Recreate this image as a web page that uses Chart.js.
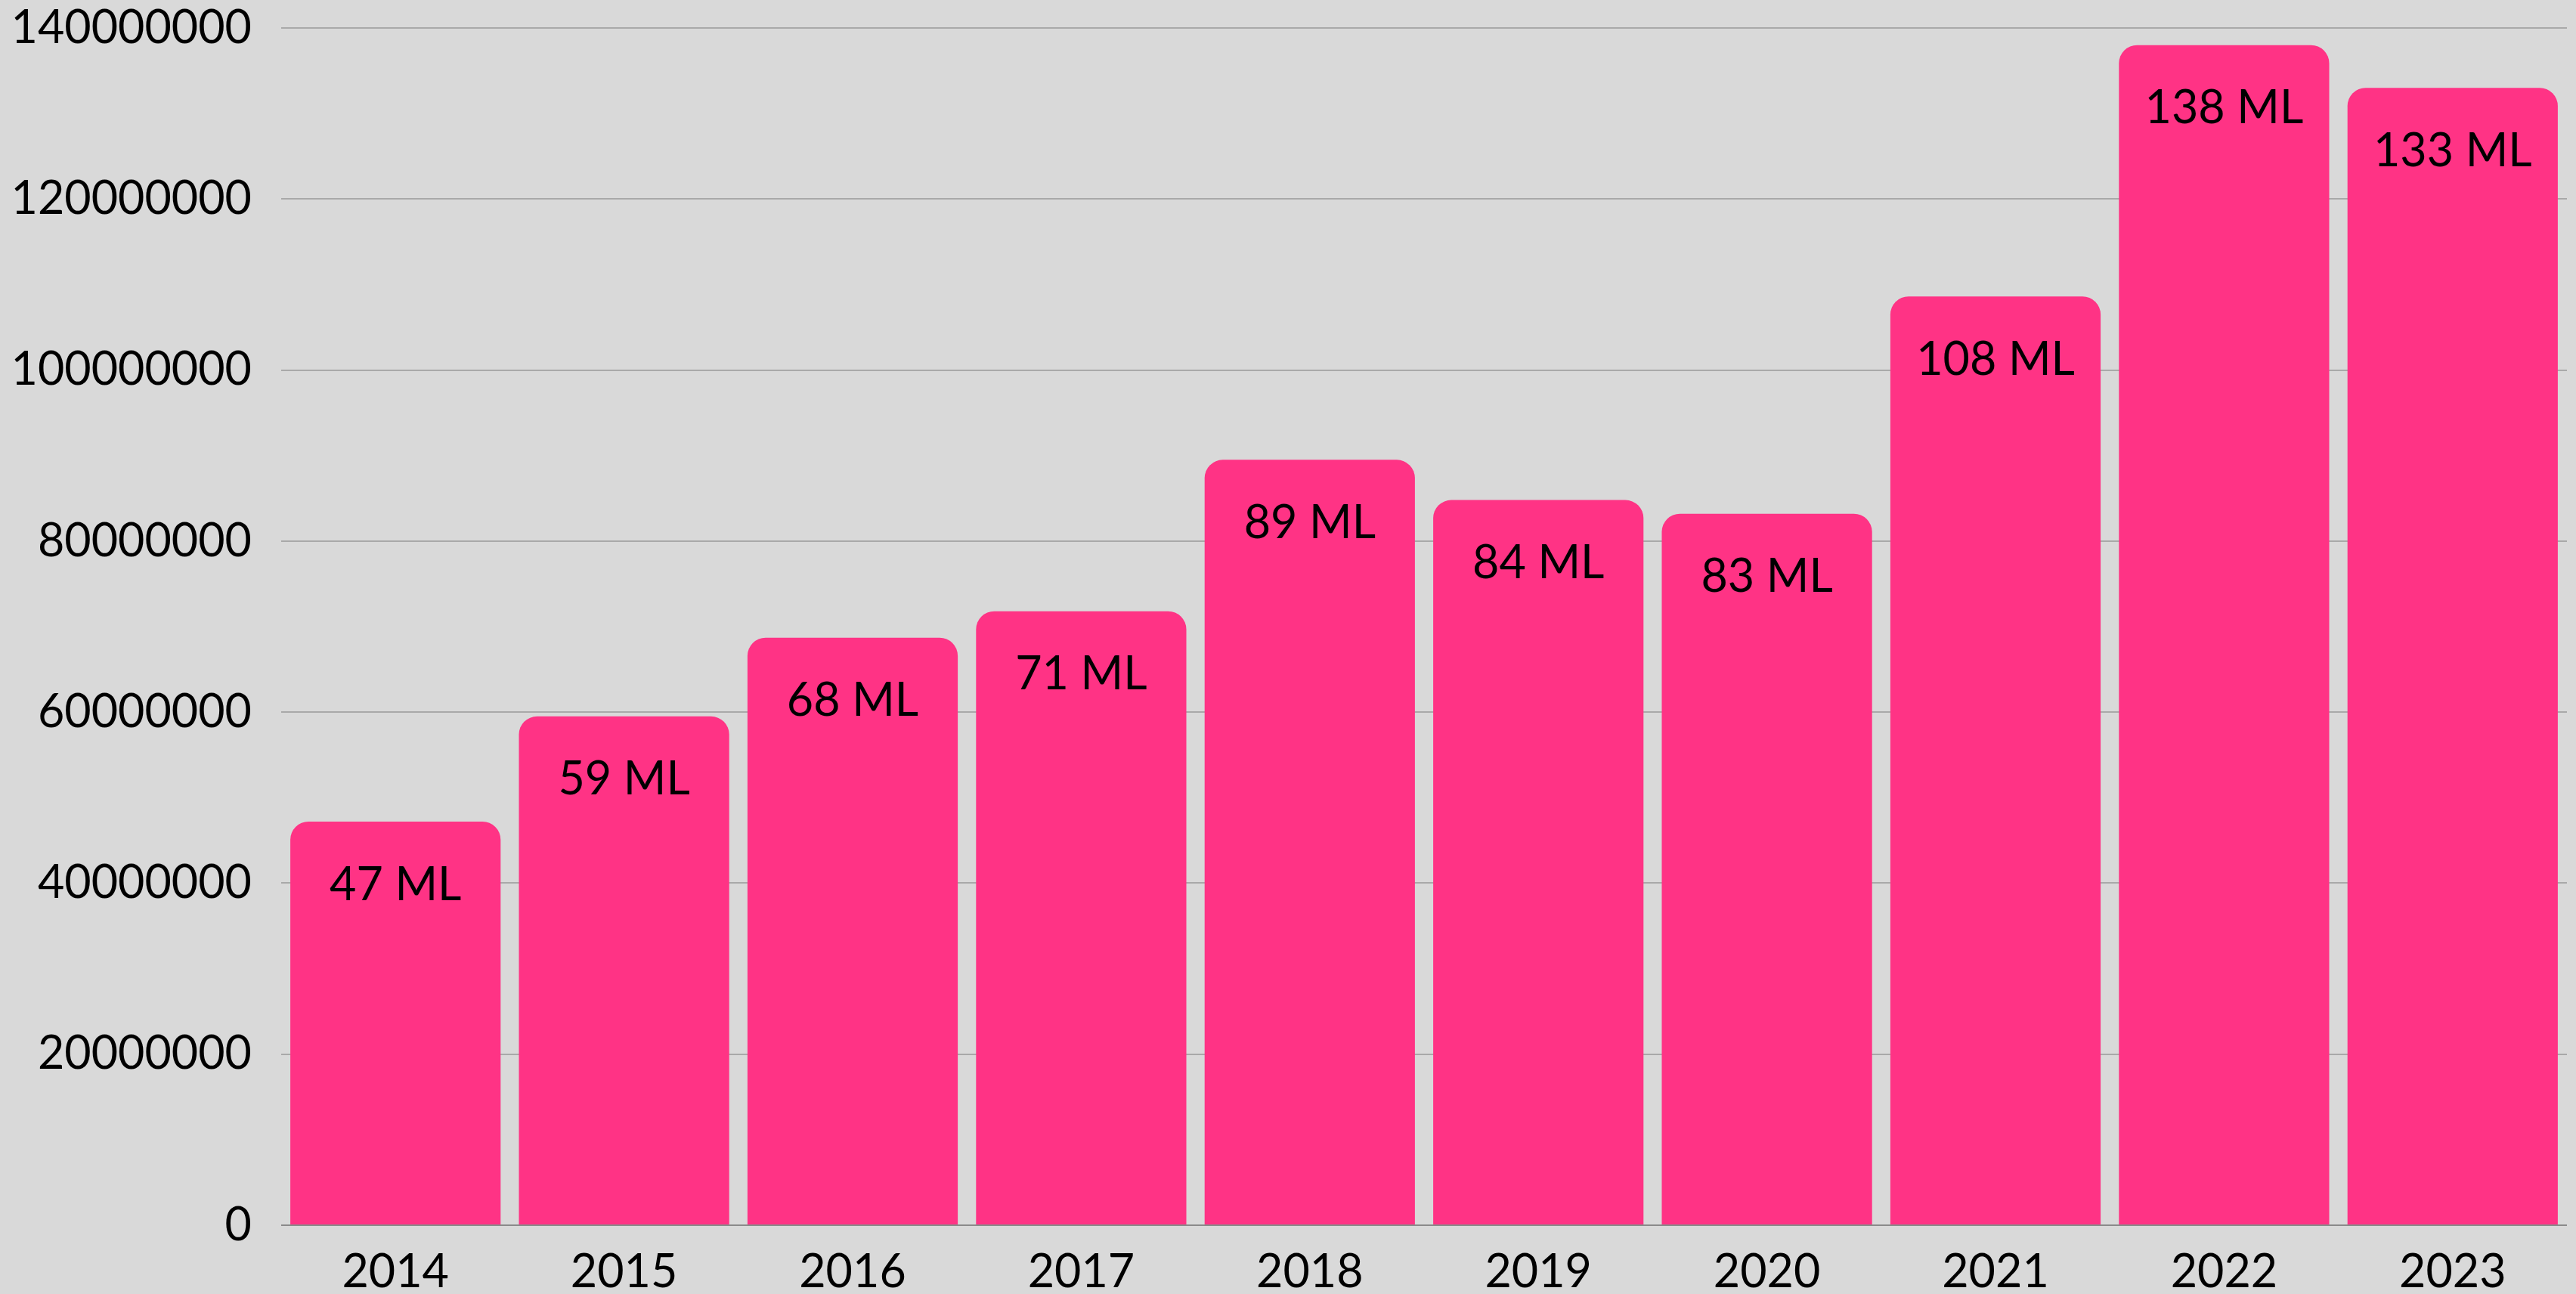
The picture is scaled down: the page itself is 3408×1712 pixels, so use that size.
<!DOCTYPE html>
<html>
<head>
<meta charset="utf-8">
<script src="https://cdn.jsdelivr.net/npm/chart.js@4.4.1/dist/chart.umd.min.js"></script>
<style>
    html, body { margin: 0; padding: 0; background: #d9d9d9; }
    #wrap { width: 3408px; height: 1712px; position: relative; }
</style>
</head>
<body>
<div id="wrap"><canvas id="volumeChart"></canvas></div>
<script>
const years = ['2014', '2015', '2016', '2017', '2018', '2019', '2020', '2021', '2022', '2023'];
const volumes = [47200000, 59500000, 68700000, 71800000, 89500000, 84800000, 83200000, 108600000, 138000000, 133000000];
const barLabels = ['47 ML', '59 ML', '68 ML', '71 ML', '89 ML', '84 ML', '83 ML', '108 ML', '138 ML', '133 ML'];
const yTicks = [0, 20000000, 40000000, 60000000, 80000000, 100000000, 120000000, 140000000];

const FONT = "Lato, 'Open Sans', sans-serif";

// etiquetas dentro das barras, logo abaixo do topo
const insideLabels = {
    id: 'insideLabels',
    afterDatasetsDraw(chart) {
        const ctx = chart.ctx;
        const meta = chart.getDatasetMeta(0);
        ctx.save();
        ctx.fillStyle = '#000000';
        ctx.font = '61px ' + FONT;
        ctx.textAlign = 'center';
        ctx.textBaseline = 'middle';
        meta.data.forEach((bar, i) => {
            ctx.fillText(barLabels[i], bar.x, bar.y + 84);
        });
        ctx.restore();
    }
};

const ctx = document.getElementById('volumeChart').getContext('2d');
new Chart(ctx, {
    type: 'bar',
    data: {
        labels: years,
        datasets: [{
            data: volumes,
            backgroundColor: '#ff3385',
            borderRadius: 24,
            borderSkipped: 'start',
            categoryPercentage: 1.0,
            barPercentage: 0.92
        }]
    },
    options: {
        responsive: true,
        maintainAspectRatio: false,
        animation: false,
        layout: { padding: { top: 37, right: 12, left: 0, bottom: 0 } },
        plugins: {
            legend: { display: false },
            tooltip: { enabled: false }
        },
        scales: {
            x: {
                grid: { display: false },
                border: { display: false },
                ticks: {
                    color: '#000000',
                    font: { family: FONT, size: 61 },
                    padding: 18,
                    maxRotation: 0
                },
                afterFit: scale => {
                    scale.height = 91;
                    scale.paddingLeft = 0;
                    scale.paddingRight = 0;
                }
            },
            y: {
                min: 0,
                max: 140000000,
                afterBuildTicks: scale => { scale.ticks = yTicks.map(v => ({ value: v })); },
                grid: {
                    color: c => (c.tick && c.tick.value === 0 ? '#8a8a8a' : '#a9a9a9'),
                    lineWidth: 2,
                    drawTicks: false
                },
                border: { display: false },
                ticks: {
                    color: '#000000',
                    font: { family: FONT, size: 61 },
                    padding: 39,
                    callback: v => String(v)
                },
                afterFit: scale => {
                    scale.width = 372;
                    scale.paddingTop = 0;
                    scale.paddingBottom = 0;
                }
            }
        }
    },
    plugins: [insideLabels]
});
</script>
</body>
</html>
